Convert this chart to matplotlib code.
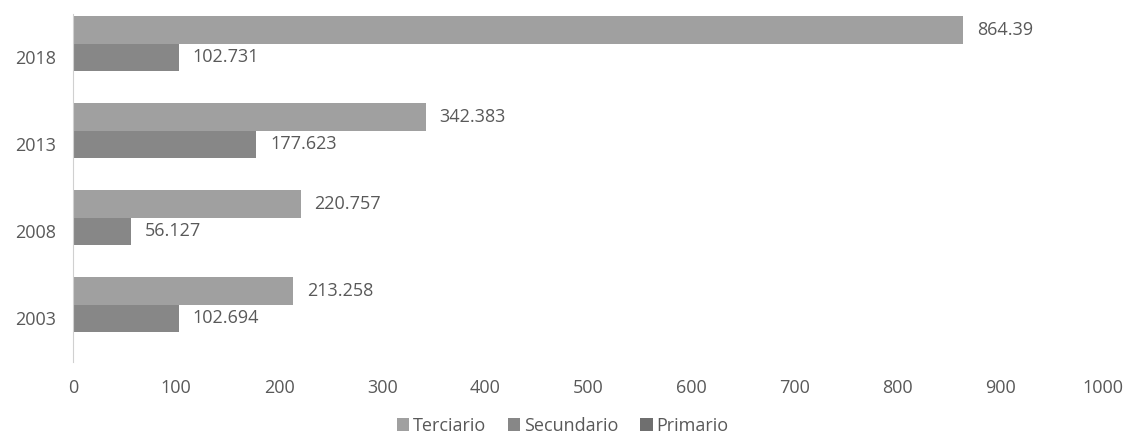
import numpy as np
import matplotlib
matplotlib.use("Agg")
import matplotlib.pyplot as plt

years = ["2003", "2008", "2013", "2018"]
terciario = [213.258, 220.757, 342.383, 864.39]
secundario = [102.694, 56.127, 177.623, 102.731]
primario = [0, 0, 0, 0]

series = [("Terciario", terciario, "#a0a0a0"),
          ("Secundario", secundario, "#878787"),
          ("Primario", primario, "#6f6f6f")]

plt.rcParams['font.family'] = ['Open Sans', 'DejaVu Sans']
text_color = "#595959"


def main():
    fig = plt.figure(figsize=(11.25, 4.34), dpi=100)
    ax = fig.add_axes([0.065, 0.166, 0.9156, 0.802])

    y = np.arange(len(years))
    h = 0.316
    offsets = [h, 0, -h]
    for (name, vals, color), off in zip(series, offsets):
        bars = ax.barh(y + off, vals, height=h, color=color, label=name)
        if name != "Primario":
            ax.bar_label(bars, labels=[str(v) for v in vals], padding=10,
                         fontsize=13, color=text_color)

    ax.set_xlim(0, 1000)
    ax.set_ylim(-0.5, 3.5)
    ax.set_xticks(np.arange(0, 1001, 100))
    ax.set_yticks(y)
    ax.set_yticklabels(years)
    ax.tick_params(length=0, labelsize=13, labelcolor=text_color)
    ax.tick_params(axis='x', pad=12)
    ax.tick_params(axis='y', pad=12)
    for s in ["top", "right", "bottom"]:
        ax.spines[s].set_visible(False)
    ax.spines["left"].set_color("#d0d0d0")

    leg = fig.legend(loc="lower center", bbox_to_anchor=(0.5, -0.04), ncol=3,
                     frameon=False, fontsize=13, handlelength=0.7, handleheight=0.7,
                     handletextpad=0.2, columnspacing=1.2)
    for t in leg.get_texts():
        t.set_color(text_color)

    fig.savefig("out.png", dpi=100)


if __name__ == "__main__":
    main()
